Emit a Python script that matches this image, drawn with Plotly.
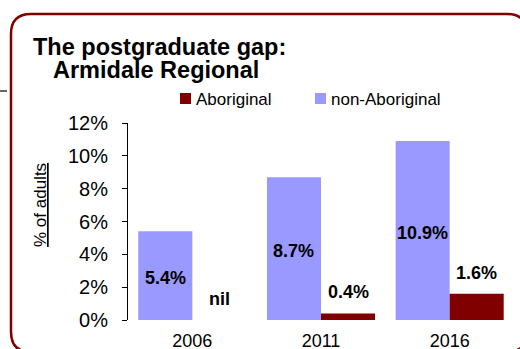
import plotly.graph_objects as go

# Postgraduate qualification rates, % of adults
years = ["2006", "2011", "2016"]
non_aboriginal = [5.4, 8.7, 10.9]
aboriginal = [0.0, 0.4, 1.6]
aboriginal_labels = ["nil", "0.4%", "1.6%"]
non_aboriginal_labels = ["5.4%", "8.7%", "10.9%"]
y_ticks = [0, 2, 4, 6, 8, 10, 12]

W, H = 520, 349
ML, MR, MT, MB = 128, 6, 123, 29
PW, PH = W - ML - MR, H - MT - MB

FONT = "Liberation Sans, Arial, Helvetica, sans-serif"
PURPLE = "#9999FF"
MAROON = "#800000"


def px(x):
    return (x - ML) / PW


def py(y):
    return (H - MB - y) / PH


x_idx = list(range(len(years)))
half = 0.21  # offset of each bar from its category centre

fig = go.Figure()
fig.add_trace(go.Bar(x=x_idx, y=non_aboriginal, name="non-Aboriginal",
                     marker=dict(color=PURPLE, line=dict(width=0))))
fig.add_trace(go.Bar(x=x_idx, y=aboriginal, name="Aboriginal",
                     marker=dict(color=MAROON, line=dict(width=0))))

annotations = []
# value labels
for i, (v, t) in enumerate(zip(non_aboriginal, non_aboriginal_labels)):
    annotations.append(dict(x=i - half, y=v / 2, xref="x", yref="y", text=f"<b>{t}</b>",
                            showarrow=False, yshift=-2,
                            font=dict(family=FONT, size=18, color="black")))
for i, (v, t) in enumerate(zip(aboriginal, aboriginal_labels)):
    annotations.append(dict(x=i + half, y=v, xref="x", yref="y", text=f"<b>{t}</b>",
                            showarrow=False, yshift=21,
                            font=dict(family=FONT, size=18, color="black")))

# title, two lines
annotations.append(dict(x=px(159), y=py(47), xref="paper", yref="paper",
                        text="<b>The postgraduate gap:</b>", showarrow=False,
                        xanchor="center", yanchor="middle",
                        font=dict(family=FONT, size=23.5, color="black")))
annotations.append(dict(x=px(156), y=py(70), xref="paper", yref="paper",
                        text="<b>Armidale Regional</b>", showarrow=False,
                        xanchor="center", yanchor="middle",
                        font=dict(family=FONT, size=23.5, color="black")))

# y-axis title
annotations.append(dict(x=px(40), y=py(205), xref="paper", yref="paper",
                        text="<u>% of adults</u>", showarrow=False, textangle=-90,
                        xanchor="center", yanchor="middle",
                        font=dict(family=FONT, size=17, color="black")))

# legend: swatch + label
shapes = []
legend_items = [("Aboriginal", MAROON, 180), ("non-Aboriginal", PURPLE, 315)]
for name, col, lx in legend_items:
    shapes.append(dict(type="rect", xref="paper", yref="paper",
                       x0=px(lx), x1=px(lx + 11), y0=py(93), y1=py(104),
                       fillcolor=col, line=dict(width=0)))
    annotations.append(dict(x=px(lx + 14), y=py(99), xref="paper", yref="paper",
                            text=name, showarrow=False, xanchor="left", yanchor="middle",
                            font=dict(family=FONT, size=17, color="black")))

# rounded frame around the chart
L, T, R, B, r = 11, 14, 527, 352, 20
pts = [
    ("M", (L + r, T)), ("L", (R - r, T)), ("Q", (R, T), (R, T + r)),
    ("L", (R, B - r)), ("Q", (R, B), (R - r, B)), ("L", (L + r, B)),
    ("Q", (L, B), (L, B - r)), ("L", (L, T + r)), ("Q", (L, T), (L + r, T)),
]
path = ""
for cmd, *coords in pts:
    path += cmd + " " + " ".join(f"{px(a):.5f},{py(b):.5f}" for a, b in coords) + " "
path += "Z"
shapes.append(dict(type="path", xref="paper", yref="paper", path=path,
                   line=dict(color=MAROON, width=2.5), fillcolor="rgba(0,0,0,0)"))
# small stray dash at the left edge
shapes.append(dict(type="line", xref="paper", yref="paper",
                   x0=px(0), x1=px(7), y0=py(91), y1=py(91),
                   line=dict(color="#333333", width=1.5)))

fig.update_layout(
    width=W, height=H,
    margin=dict(l=ML, r=MR, t=MT, b=MB, pad=0, autoexpand=False),
    paper_bgcolor="white", plot_bgcolor="white",
    barmode="group", bargap=0.16, bargroupgap=0,
    showlegend=False,
    annotations=annotations, shapes=shapes,
    font=dict(family=FONT, color="black"),
    xaxis=dict(tickmode="array", tickvals=x_idx, ticktext=years, range=[-0.5, 2.5],
               showline=False, showgrid=False, zeroline=False, ticks="",
               automargin=False,
               tickfont=dict(family=FONT, size=18, color="black"),
               ticklabelstandoff=8),
    yaxis=dict(range=[0, 12], tickmode="array", tickvals=y_ticks,
               ticktext=[f"{v}%" for v in y_ticks],
               showline=True, linecolor="black", linewidth=1,
               ticks="outside", ticklen=5, tickcolor="black", tickwidth=1,
               showgrid=False, zeroline=False, automargin=False,
               tickfont=dict(family=FONT, size=20, color="black"),
               ticklabelstandoff=10),
)

fig.write_html("out.html")
